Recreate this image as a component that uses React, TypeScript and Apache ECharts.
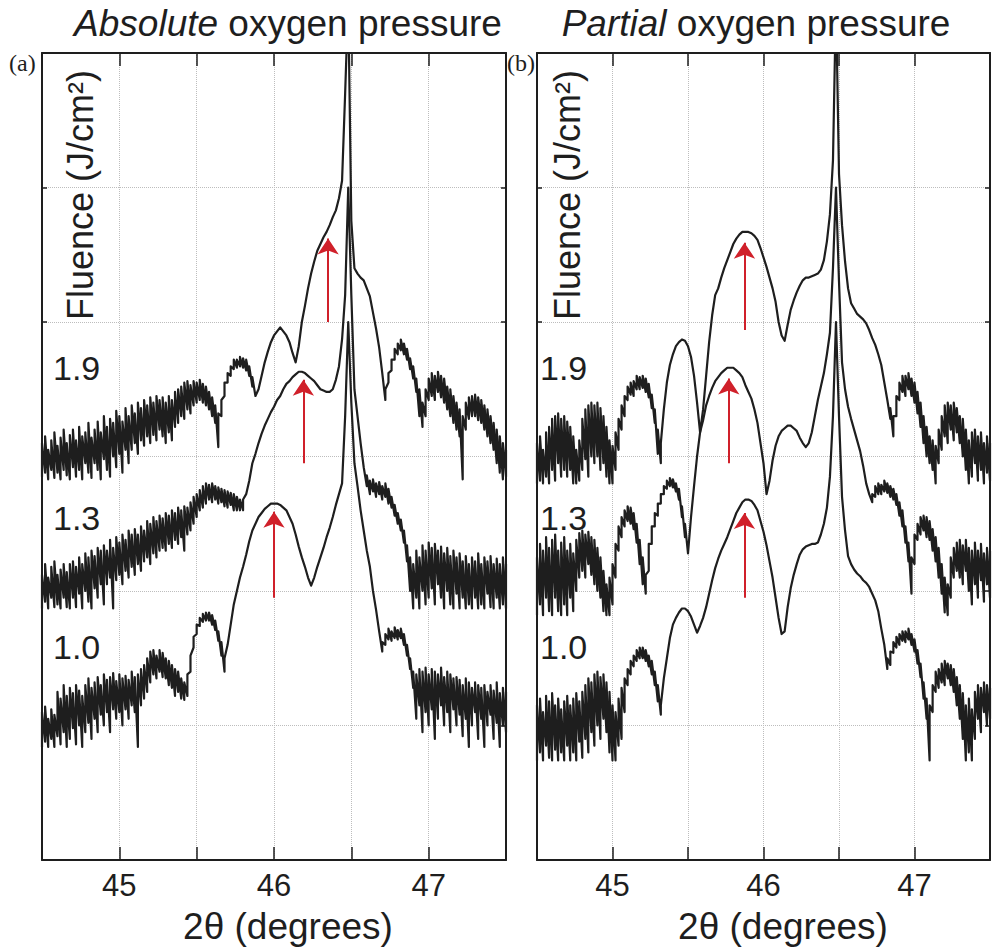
import React, { useEffect, useRef } from 'react';
import * as echarts from 'echarts';

// x grid of every curve: 44.50, 44.52, ..., 47.50 (2θ, degrees).
// A plain number is the trace value at that x; a [lo, hi] pair is the
// vertical extent of the noisy trace read at that x.
const X_MIN = 44.5;
const X_MAX = 47.5;
const X_STEP = 0.02;

type Pt = number | number[];

// Panel (a): absolute oxygen pressure (log intensity + offset)
const absF19: Pt[] = [
  [2.85, 3.1], [2.88, 3.15], [2.83, 3.05], [2.9, 3.12], [2.84, 3.18], [2.88, 3.08], [2.83, 3.14], [2.9, 3.2], [2.86, 3.1], [2.83, 3.16],
  [2.92, 3.2], [2.85, 3.12], [2.9, 3.22], [2.83, 3.15], [2.95, 3.18], [2.88, 3.25], [2.84, 3.14], [2.95, 3.2], [2.9, 3.26], [2.83, 3.18],
  [2.98, 3.3], [2.9, 3.22], [2.85, 3.28], [3.0, 3.25], [2.92, 3.34], [3.02, 3.3], [2.88, 3.26], [3.05, 3.36], [2.95, 3.3], [3.05, 3.38],
  [3.1, 3.32], [3.02, 3.4], [3.12, 3.36], [3.08, 3.42], [3.15, 3.38], [3.1, 3.44], [3.16, 3.4], [3.12, 3.45], [3.2, 3.42], [3.15, 3.44],
  [3.1, 3.4], [3.18, 3.45], [3.12, 3.42], [3.22, 3.48], [3.25, 3.5], [3.3, 3.52], [3.28, 3.55], [3.35, 3.56], [3.32, 3.53], [3.38, 3.56],
  [3.4, 3.55], [3.42, 3.57], [3.4, 3.54], [3.38, 3.52], [3.35, 3.48], [3.3, 3.44], [3.25, 3.38], [3.07, 3.32], [3.3, 3.42], [3.45, 3.55],
  [3.55, 3.62], [3.6, 3.67], [3.65, 3.72], [3.66, 3.72], [3.67, 3.74], [3.66, 3.73], [3.64, 3.72], [3.6, 3.67], [3.52, 3.59], 3.45,
  3.5, 3.6, 3.7, 3.78, 3.85, 3.9, 3.93, 3.96, 3.93, 3.9,
  3.85, 3.77, 3.7, 3.82, 4.0, 4.12, 4.25, 4.36, 4.45, 4.53,
  4.58, 4.63, 4.67, 4.72, 4.78, 4.83, 4.92, 5.05, 5.7, 6.4,
  4.75, 4.4, 4.36, 4.33, 4.31, 4.25, 4.19, 4.07, 3.95, 3.81,
  3.62, [3.42, 3.5], [3.55, 3.62], [3.64, 3.72], [3.72, 3.8], [3.76, 3.84], [3.79, 3.87], [3.76, 3.84], [3.72, 3.8], [3.65, 3.73],
  [3.58, 3.67], [3.48, 3.58], [3.3, 3.5], [3.22, 3.4], [3.3, 3.5], [3.42, 3.58], [3.45, 3.62], [3.42, 3.6], [3.48, 3.63], [3.44, 3.6],
  [3.4, 3.58], [3.35, 3.52], [3.3, 3.5], [3.25, 3.45], [3.2, 3.4], [3.15, 3.35], [2.83, 3.3], [3.2, 3.4], [3.28, 3.44], [3.3, 3.45],
  [3.3, 3.46], [3.27, 3.44], [3.25, 3.42], [3.2, 3.38], [3.15, 3.35], [3.1, 3.3], [3.05, 3.25], [2.95, 3.2], [2.88, 3.15], [2.83, 3.1],
  [2.85, 3.05],
];
const absF13: Pt[] = [
  [1.87, 2.12], [1.92, 2.2], [1.87, 2.1], [1.95, 2.18], [1.88, 2.22], [1.9, 2.12], [1.87, 2.16], [1.95, 2.2], [1.88, 2.14], [1.87, 2.2],
  [1.95, 2.22], [1.88, 2.18], [1.98, 2.25], [1.87, 2.2], [2.0, 2.28], [1.92, 2.25], [1.87, 2.3], [2.02, 2.26], [1.95, 2.32], [2.05, 2.3],
  [1.9, 2.34], [2.05, 2.3], [2.1, 2.38], [1.87, 2.32], [2.08, 2.4], [2.12, 2.36], [2.05, 2.42], [2.15, 2.38], [2.1, 2.45], [2.18, 2.42],
  [2.12, 2.46], [2.2, 2.42], [2.15, 2.48], [2.22, 2.45], [2.25, 2.52], [2.2, 2.5], [2.28, 2.55], [2.25, 2.52], [2.3, 2.56], [2.32, 2.54],
  [2.3, 2.58], [2.35, 2.56], [2.32, 2.6], [2.38, 2.58], [2.35, 2.62], [2.4, 2.6], [2.3, 2.63], [2.42, 2.62], [2.45, 2.66], [2.5, 2.7],
  [2.55, 2.72], [2.6, 2.75], [2.62, 2.78], [2.65, 2.8], [2.68, 2.79], [2.66, 2.8], [2.68, 2.78], [2.65, 2.77], [2.66, 2.76], [2.63, 2.75],
  [2.62, 2.74], [2.64, 2.73], [2.6, 2.72], [2.6, 2.7], [2.6, 2.68], [2.6, 2.68], 2.72, 2.82, 2.95, 3.02,
  3.1, 3.17, 3.23, 3.28, 3.33, 3.37, 3.42, 3.45, 3.5, 3.54,
  3.56, 3.59, 3.61, 3.63, 3.63, 3.62, 3.6, 3.58, 3.56, 3.53,
  3.5, 3.49, 3.48, 3.48, 3.5, 3.57, 3.67, 3.87, 4.2, 5.0,
  4.2, 3.5, 3.3, 3.1, 2.92, [2.78, 2.86], [2.72, 2.82], [2.74, 2.83], [2.7, 2.8], [2.72, 2.81],
  [2.68, 2.78], [2.7, 2.8], [2.65, 2.76], [2.62, 2.7], [2.56, 2.64], [2.5, 2.58], [2.45, 2.53], [2.36, 2.45], [2.22, 2.34], [2.0, 2.25],
  [1.87, 2.2], [1.95, 2.3], [1.87, 2.25], [2.0, 2.34], [1.9, 2.3], [1.95, 2.36], [2.02, 2.32], [1.9, 2.35], [2.05, 2.3], [1.95, 2.33],
  [1.87, 2.28], [2.0, 2.32], [1.9, 2.26], [1.87, 2.3], [1.98, 2.25], [1.87, 2.28], [1.95, 2.22], [1.87, 2.26], [1.9, 2.2], [1.87, 2.25],
  [1.95, 2.22], [1.87, 2.28], [1.9, 2.2], [1.87, 2.25], [1.98, 2.22], [1.88, 2.26], [1.87, 2.2], [1.95, 2.24], [1.87, 2.2], [1.9, 2.25],
  [1.87, 2.2],
];
const absF10: Pt[] = [
  [0.84, 1.1], [0.88, 1.14], [0.84, 1.05], [0.9, 1.12], [0.84, 1.08], [0.92, 1.25], [0.86, 1.2], [0.95, 1.3], [0.84, 1.22], [0.9, 1.28],
  [0.98, 1.24], [0.86, 1.3], [1.0, 1.26], [0.84, 1.22], [0.95, 1.3], [1.02, 1.35], [0.9, 1.28], [1.05, 1.32], [0.95, 1.36], [1.08, 1.3],
  [1.0, 1.38], [1.1, 1.34], [0.95, 1.36], [1.12, 1.39], [1.05, 1.33], [1.1, 1.38], [1.0, 1.35], [1.12, 1.37], [1.05, 1.34], [1.15, 1.4],
  [1.1, 1.36], [0.84, 1.38], [1.15, 1.42], [1.2, 1.45], [1.25, 1.5], [1.32, 1.55], [1.38, 1.56], [1.35, 1.52], [1.4, 1.56], [1.36, 1.54],
  [1.35, 1.5], [1.3, 1.48], [1.28, 1.45], [1.22, 1.42], [1.25, 1.4], [1.2, 1.35], [1.19, 1.32], [1.22, 1.38], [1.4, 1.52], [1.58, 1.66],
  [1.68, 1.75], [1.74, 1.8], [1.77, 1.83], [1.78, 1.84], [1.78, 1.84], [1.75, 1.82], [1.71, 1.78], [1.63, 1.7], [1.52, 1.62], [1.4, 1.5],
  1.6, 1.75, 1.9, 2.0, 2.1, 2.18, 2.27, 2.37, 2.45, 2.5,
  2.55, 2.58, 2.61, 2.63, 2.65, 2.65, 2.65, 2.64, 2.62, 2.6,
  2.55, 2.5, 2.42, 2.33, 2.25, 2.18, 2.1, 2.04, 2.1, 2.18,
  2.25, 2.32, 2.4, 2.47, 2.55, 2.64, 2.72, 2.8, 3.3, 4.0,
  3.4, 2.95, 2.78, 2.6, 2.45, 2.3, 2.18, 2.0, 1.86, 1.7,
  [1.55, 1.62], [1.6, 1.68], [1.64, 1.72], [1.63, 1.7], [1.65, 1.73], [1.64, 1.71], [1.65, 1.72], [1.6, 1.68], [1.52, 1.6], [1.42, 1.5],
  [1.28, 1.4], [1.05, 1.38], [1.15, 1.42], [0.95, 1.4], [1.1, 1.43], [1.0, 1.38], [1.12, 1.42], [0.9, 1.4], [1.05, 1.38], [1.15, 1.43],
  [1.0, 1.36], [1.1, 1.4], [0.95, 1.38], [1.12, 1.35], [1.0, 1.36], [1.08, 1.34], [0.92, 1.3], [1.05, 1.35], [0.84, 1.32], [1.0, 1.28],
  [1.1, 1.32], [0.9, 1.3], [1.05, 1.28], [0.84, 1.3], [1.0, 1.25], [1.08, 1.3], [0.9, 1.26], [1.02, 1.32], [0.84, 1.24], [1.0, 1.28],
  [0.95, 1.25],
];

// Panel (b): partial oxygen pressure
const partF19: Pt[] = [
  [2.8, 3.1], [2.82, 3.15], [2.8, 3.05], [2.85, 3.18], [2.8, 3.22], [2.9, 3.28], [2.82, 3.3], [2.95, 3.32], [2.85, 3.28], [2.9, 3.3],
  [2.85, 3.26], [2.9, 3.22], [2.8, 3.15], [2.8, 3.05], [2.82, 3.12], [2.9, 3.28], [2.98, 3.35], [2.85, 3.38], [3.0, 3.4], [2.95, 3.38],
  [3.0, 3.4], [2.9, 3.36], [2.95, 3.3], [2.85, 3.22], [2.8, 3.12], [2.8, 3.08], [2.9, 3.18], [3.05, 3.28], [3.2, 3.38], [3.3, 3.45],
  [3.42, 3.52], [3.46, 3.55], [3.45, 3.56], [3.5, 3.6], [3.5, 3.59], [3.51, 3.6], [3.48, 3.58], [3.44, 3.54], [3.36, 3.46], [3.25, 3.35],
  [3.02, 3.2], [2.95, 3.1], 3.35, 3.55, 3.68, 3.76, 3.82, 3.85, 3.87, 3.86,
  3.82, 3.74, 3.6, 3.4, 3.18, 3.35, 3.6, 3.85, 4.05, 4.2,
  4.25, 4.33, 4.4, 4.46, 4.52, 4.58, 4.62, 4.65, 4.67, 4.67,
  4.67, 4.66, 4.64, 4.61, 4.55, 4.48, 4.41, 4.33, 4.25, 4.15,
  4.0, 3.9, 3.86, 3.98, 4.09, 4.16, 4.22, 4.27, 4.31, 4.33,
  4.33, 4.34, 4.35, 4.36, 4.39, 4.46, 4.6, 4.8, 5.2, 6.4,
  5.1, 4.72, 4.45, 4.25, 4.14, 4.1, 4.06, 4.04, 4.02, 3.99,
  3.94, 3.88, 3.83, 3.76, 3.68, 3.55, 3.42, [3.28, 3.36], [3.15, 3.3], [3.3, 3.45],
  [3.42, 3.55], [3.48, 3.6], [3.45, 3.6], [3.5, 3.62], [3.45, 3.58], [3.4, 3.55], [3.32, 3.48], [3.22, 3.4], [3.1, 3.3], [3.0, 3.22],
  [2.95, 3.15], [2.9, 3.12], [2.8, 3.08], [2.95, 3.2], [3.05, 3.3], [3.15, 3.38], [3.1, 3.4], [3.2, 3.38], [3.12, 3.4], [3.18, 3.36],
  [3.1, 3.3], [3.0, 3.28], [2.9, 3.2], [2.8, 3.12], [2.85, 3.18], [2.95, 3.2], [2.82, 3.15], [2.9, 3.18], [2.8, 3.1], [2.88, 3.15],
  [2.82, 3.1],
];
const partF13: Pt[] = [
  [1.82, 2.25], [1.9, 2.35], [1.82, 2.3], [1.95, 2.4], [1.85, 2.32], [1.82, 2.38], [1.95, 2.42], [1.85, 2.3], [1.82, 2.36], [1.9, 2.4],
  [1.82, 2.3], [1.95, 2.35], [1.85, 2.28], [2.0, 2.38], [2.1, 2.43], [2.15, 2.45], [2.1, 2.42], [2.2, 2.44], [2.12, 2.4], [2.05, 2.38],
  [2.0, 2.32], [1.95, 2.25], [1.85, 2.15], [1.82, 2.05], [1.82, 2.1], [1.9, 2.2], [2.1, 2.35], [2.3, 2.48], [2.4, 2.55], [2.48, 2.6],
  [2.52, 2.63], [2.5, 2.62], [2.46, 2.58], [2.36, 2.5], [2.2, 2.38], [2.05, 2.25], [1.98, 2.12], [2.15, 2.35], [2.35, 2.48], [2.48, 2.58],
  [2.56, 2.65], [2.65, 2.72], [2.72, 2.78], [2.76, 2.82], [2.78, 2.84], [2.77, 2.83], [2.74, 2.8], [2.68, 2.76], [2.55, 2.63], [2.4, 2.5],
  2.28, 2.55, 2.78, 3.0, 3.18, 3.27, 3.38, 3.45, 3.51, 3.56,
  3.59, 3.62, 3.64, 3.66, 3.66, 3.66, 3.64, 3.62, 3.59, 3.53,
  3.48, 3.43, 3.35, 3.25, 3.1, 2.95, 2.72, 2.82, 2.97, 3.08,
  3.15, 3.19, 3.21, 3.23, 3.23, 3.21, 3.19, 3.14, 3.1, 3.07,
  3.1, 3.18, 3.3, 3.42, 3.52, 3.62, 3.76, 3.92, 4.4, 5.0,
  4.3, 3.7, 3.5, 3.37, 3.28, 3.2, 3.12, 3.04, 2.93, 2.8,
  2.72, [2.66, 2.72], [2.7, 2.78], [2.72, 2.8], [2.72, 2.79], [2.74, 2.82], [2.73, 2.8], [2.7, 2.78], [2.68, 2.76], [2.64, 2.72],
  [2.56, 2.66], [2.48, 2.6], [2.36, 2.48], [2.22, 2.36], [1.98, 2.25], [2.2, 2.42], [2.38, 2.5], [2.42, 2.55], [2.45, 2.56], [2.4, 2.55],
  [2.38, 2.52], [2.3, 2.46], [2.22, 2.4], [2.1, 2.32], [1.98, 2.2], [1.84, 2.1], [1.82, 2.05], [1.95, 2.25], [2.1, 2.32], [2.15, 2.36],
  [2.1, 2.38], [2.05, 2.34], [2.15, 2.38], [2.0, 2.32], [1.9, 2.3], [2.05, 2.36], [1.95, 2.3], [2.08, 2.35], [1.92, 2.28], [2.05, 2.32],
  [1.95, 2.3],
];
const partF10: Pt[] = [
  [0.74, 1.15], [0.8, 1.2], [0.74, 1.1], [0.85, 1.22], [0.76, 1.18], [0.74, 1.24], [0.82, 1.15], [0.74, 1.2], [0.8, 1.12], [0.74, 1.18],
  [0.85, 1.22], [0.74, 1.15], [0.8, 1.2], [0.74, 1.24], [0.88, 1.18], [0.76, 1.25], [0.9, 1.3], [0.8, 1.35], [0.95, 1.32], [0.85, 1.38],
  [1.0, 1.4], [0.9, 1.36], [1.05, 1.38], [0.95, 1.32], [0.8, 1.25], [0.74, 1.15], [0.74, 1.1], [0.85, 1.2], [0.9, 1.28], [1.1, 1.35],
  [1.3, 1.42], [1.38, 1.48], [1.44, 1.52], [1.48, 1.56], [1.5, 1.58], [1.5, 1.58], [1.48, 1.56], [1.44, 1.52], [1.38, 1.48], [1.3, 1.4],
  [1.18, 1.3], [1.08, 1.15], 1.35, 1.5, 1.65, 1.75, 1.8, 1.84, 1.87, 1.87,
  1.85, 1.81, 1.75, 1.69, 1.74, 1.8, 1.88, 1.98, 2.08, 2.17,
  2.24, 2.3, 2.35, 2.4, 2.46, 2.52, 2.58, 2.62, 2.66, 2.68,
  2.68, 2.67, 2.64, 2.6, 2.52, 2.44, 2.34, 2.22, 2.1, 1.95,
  1.8, 1.68, 1.7, 1.88, 2.02, 2.12, 2.2, 2.27, 2.31, 2.33,
  2.34, 2.35, 2.35, 2.36, 2.42, 2.5, 2.62, 2.85, 3.3, 4.0,
  3.3, 2.7, 2.45, 2.26, 2.2, 2.16, 2.13, 2.11, 2.08, 2.06,
  2.03, 1.98, 1.93, 1.85, 1.72, 1.6, [1.42, 1.5], [1.45, 1.55], [1.54, 1.62], [1.58, 1.66],
  [1.6, 1.68], [1.63, 1.7], [1.62, 1.7], [1.64, 1.72], [1.6, 1.68], [1.55, 1.64], [1.46, 1.56], [1.36, 1.46], [1.2, 1.32], [1.05, 1.2],
  [0.74, 1.15], [1.1, 1.3], [1.25, 1.4], [1.28, 1.42], [1.32, 1.46], [1.3, 1.48], [1.35, 1.46], [1.3, 1.45], [1.25, 1.42], [1.15, 1.36],
  [1.05, 1.3], [0.9, 1.24], [0.74, 1.15], [0.8, 1.2], [0.74, 1.12], [0.9, 1.25], [1.05, 1.3], [0.95, 1.28], [1.1, 1.32], [1.0, 1.3],
  [1.05, 1.28],
];

const fluenceLabels = ['1.9', '1.3', '1.0'];
const xTickLabels = [45, 46, 47];

// red arrows: [x, start, tip]
const absArrows = [
  [46.35, 4.0, 4.62],
  [46.19, 2.95, 3.57],
  [46.0, 1.95, 2.59],
];
const partArrows = [
  [45.874, 3.94, 4.59],
  [45.77, 2.95, 3.58],
  [45.874, 1.95, 2.58],
];

const INK = '#1e1e1e';
const RED = '#d0202a';
const SANS = "'Liberation Sans', Arial, Helvetica, sans-serif";
const SERIF = "'Liberation Serif', 'Times New Roman', serif";

// flatten: a [lo, hi] reading becomes a vertical stroke at its x
const toData = (vals: Pt[]) => {
  const out: number[][] = [];
  vals.forEach((v, i) => {
    const x = Number((X_MIN + i * X_STEP).toFixed(2));
    if (Array.isArray(v)) {
      out.push([x, v[0]], [x, v[1]]);
    } else {
      out.push([x, v]);
    }
  });
  return out;
};

function buildOption() {
  const grids = [
    { left: 42, top: 53, width: 464, height: 807 },
    { left: 537, top: 53, width: 465, height: 807 },
  ];
  const xAxes: any[] = [];
  const yAxes: any[] = [];
  grids.forEach((_, g) => {
    xAxes.push({
      type: 'value', gridIndex: g, position: 'bottom', min: X_MIN, max: X_MAX, interval: 0.5,
      axisLine: { show: true, onZero: false, lineStyle: { color: INK, width: 2 } },
      axisTick: { show: true, inside: true, length: 13, lineStyle: { color: INK, width: 1.5 } },
      axisLabel: {
        show: true, margin: 10, fontSize: 31, fontFamily: SANS, color: INK,
        formatter: (v: number) => (xTickLabels.includes(v) ? String(v) : ''),
      },
      splitLine: { show: true, lineStyle: { color: '#bdbdbd', type: 'dotted', width: 1 } },
    });
    xAxes.push({
      type: 'value', gridIndex: g, position: 'top', min: X_MIN, max: X_MAX, interval: 0.5,
      axisLine: { show: true, onZero: false, lineStyle: { color: INK, width: 2 } },
      axisTick: { show: true, inside: true, length: 13, lineStyle: { color: INK, width: 1.5 } },
      axisLabel: { show: false },
      splitLine: { show: false },
    });
    yAxes.push({
      type: 'value', gridIndex: g, position: 'left', min: 0, max: 6, interval: 1,
      axisLine: { show: true, onZero: false, lineStyle: { color: INK, width: 2 } },
      axisTick: { show: true, inside: true, length: 5, lineStyle: { color: INK, width: 1.5 } },
      axisLabel: { show: false },
      splitLine: { show: true, lineStyle: { color: '#bdbdbd', type: 'dotted', width: 1 } },
    });
    yAxes.push({
      type: 'value', gridIndex: g, position: 'right', min: 0, max: 6, interval: 1,
      axisLine: { show: true, onZero: false, lineStyle: { color: INK, width: 2 } },
      axisTick: { show: true, inside: true, length: 5, lineStyle: { color: INK, width: 1.5 } },
      axisLabel: { show: false },
      splitLine: { show: false },
    });
  });

  const curve = (vals: Pt[], panel: number, arrows?: number[][]) => {
    const s: any = {
      type: 'line',
      xAxisIndex: panel * 2,
      yAxisIndex: panel * 2,
      data: toData(vals),
      showSymbol: false,
      symbol: 'none',
      silent: true,
      clip: true,
      lineStyle: { color: INK, width: 2.2, join: 'round' },
      z: 3,
    };
    if (arrows) {
      s.markLine = {
        silent: true,
        symbol: ['none', 'arrow'],
        symbolSize: 16,
        label: { show: false },
        emphasis: { disabled: true },
        lineStyle: { color: RED, width: 2, type: 'solid' },
        z: 10,
        data: arrows.map(([x, y0, y1]) => [
          { coord: [x, y0] },
          { coord: [x, y1] },
        ]),
      };
    }
    return s;
  };

  const series = [
    curve(absF19, 0, absArrows),
    curve(absF13, 0),
    curve(absF10, 0),
    curve(partF19, 1, partArrows),
    curve(partF13, 1),
    curve(partF10, 1),
  ];

  const labelYs = [368, 518, 647];
  const graphic: any[] = [
    {
      type: 'text', x: 288, y: 23,
      style: {
        text: '{i|Absolute} oxygen pressure', fill: INK, fontSize: 37, fontFamily: SANS,
        align: 'center', verticalAlign: 'middle',
        rich: { i: { fontStyle: 'italic', fontSize: 37, fontFamily: SANS, fill: INK } },
      },
    },
    {
      type: 'text', x: 756, y: 23,
      style: {
        text: '{i|Partial} oxygen pressure', fill: INK, fontSize: 37, fontFamily: SANS,
        align: 'center', verticalAlign: 'middle',
        rich: { i: { fontStyle: 'italic', fontSize: 37, fontFamily: SANS, fill: INK } },
      },
    },
    { type: 'text', x: 9, y: 63, style: { text: '(a)', fill: INK, fontSize: 24, fontFamily: SERIF, align: 'left', verticalAlign: 'middle' } },
    { type: 'text', x: 507, y: 63, style: { text: '(b)', fill: INK, fontSize: 24, fontFamily: SERIF, align: 'left', verticalAlign: 'middle' } },
    { type: 'text', x: 80, y: 320, rotation: Math.PI / 2, style: { text: 'Fluence (J/cm²)', fill: INK, fontSize: 36, fontFamily: SANS, align: 'left', verticalAlign: 'middle' } },
    { type: 'text', x: 567, y: 320, rotation: Math.PI / 2, style: { text: 'Fluence (J/cm²)', fill: INK, fontSize: 36, fontFamily: SANS, align: 'left', verticalAlign: 'middle' } },
    { type: 'text', x: 288, y: 926, style: { text: '2θ (degrees)', fill: INK, fontSize: 37, fontFamily: SANS, align: 'center', verticalAlign: 'middle' } },
    { type: 'text', x: 783, y: 926, style: { text: '2θ (degrees)', fill: INK, fontSize: 37, fontFamily: SANS, align: 'center', verticalAlign: 'middle' } },
  ];
  fluenceLabels.forEach((t, k) => {
    graphic.push({ type: 'text', x: 53, y: labelYs[k], style: { text: t, fill: INK, fontSize: 34, fontFamily: SANS, align: 'left', verticalAlign: 'middle' } });
    graphic.push({ type: 'text', x: 540, y: labelYs[k], style: { text: t, fill: INK, fontSize: 34, fontFamily: SANS, align: 'left', verticalAlign: 'middle' } });
  });

  return {
    animation: false,
    backgroundColor: '#ffffff',
    textStyle: { fontFamily: SANS },
    grid: grids,
    xAxis: xAxes,
    yAxis: yAxes,
    series,
    graphic,
  };
}

export default function App() {
  const ref = useRef<HTMLDivElement>(null);
  useEffect(() => {
    if (!ref.current) return;
    const chart = echarts.init(ref.current, undefined, { renderer: 'svg' });
    chart.setOption(buildOption() as any);
    return () => chart.dispose();
  }, []);
  return (
    <div
      ref={ref}
      style={{ position: 'absolute', left: 0, top: 0, width: 993, height: 948, background: '#fff' }}
    />
  );
}
